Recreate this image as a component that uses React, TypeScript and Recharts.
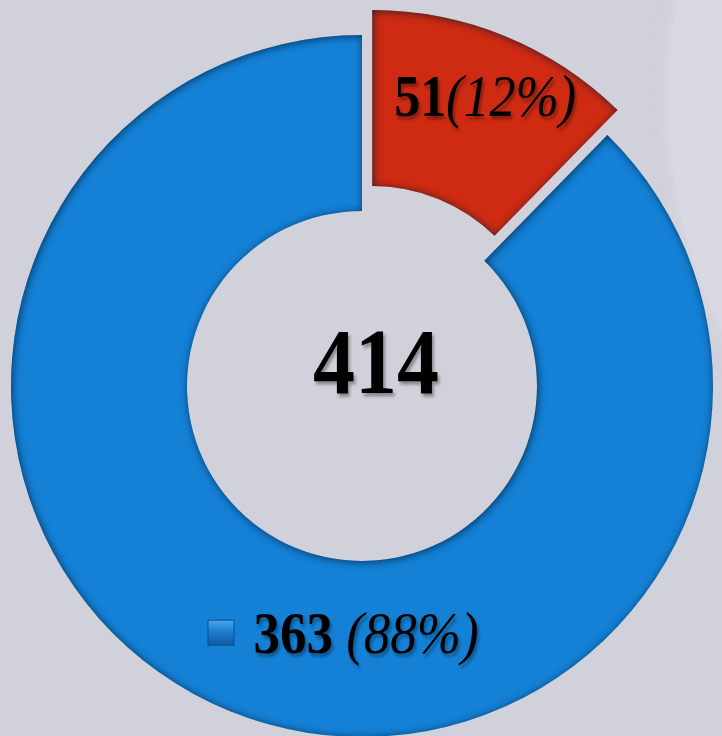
import { PieChart, Pie, Cell, Label } from "recharts"

const categories = ["Red", "Blue"]
const values = [51, 363]
const colors = ["#cf2a12", "#1481d6"]

const data = categories.map((name, i) => ({ name, value: values[i] }))
const total = values.reduce((a, b) => a + b, 0)

const CX = 362
const CY = 386
const INNER = 175
const OUTER = 351
const EXPLODE = 27
const RAD = Math.PI / 180
const FONT = "'Liberation Serif', 'Times New Roman', serif"

// the small slice is pulled out along its mid angle (clockwise from 12 o'clock)
const redMid = (values[0] / total) * 180
const offX = EXPLODE * Math.sin(redMid * RAD)
const offY = -EXPLODE * Math.cos(redMid * RAD)

const pct = (p: number) => `${Math.round(p * 100)}%`

function RedLabel(props: any) {
  const { cx, cy, midAngle, innerRadius, outerRadius, percent, value, index } = props
  if (index !== 0) return <g />
  const r = innerRadius + (outerRadius - innerRadius) * 0.63
  const x = cx + r * Math.cos(-midAngle * RAD) + 5
  const y = cy + r * Math.sin(-midAngle * RAD)
  return (
    <text
      transform={`translate(${x} ${y}) scale(1 1.12)`}
      textAnchor="middle"
      dominantBaseline="central"
      fontFamily={FONT}
      fontSize={52}
      fill="#000"
      filter="url(#txtShadow)"
    >
      <tspan fontWeight="bold">{value}</tspan>
      <tspan fontStyle="italic">({pct(percent)})</tspan>
    </text>
  )
}

function BlueLabel(props: any) {
  const { cx, cy, innerRadius, outerRadius, percent, value, index } = props
  if (index !== 1) return <g />
  const y = cy + innerRadius + (outerRadius - innerRadius) * 0.41
  return (
    <g>
      <rect
        x={cx - 154}
        y={y - 13}
        width={26}
        height={25}
        fill="url(#iconGrad)"
        stroke="#0d4f8c"
        strokeWidth={1}
      />
      <text
        transform={`translate(${cx + 4} ${y}) scale(1 1.12)`}
        textAnchor="middle"
        dominantBaseline="central"
        fontFamily={FONT}
        fontSize={53}
        fill="#000"
        filter="url(#txtShadow)"
      >
        <tspan fontWeight="bold">{value}</tspan>
        <tspan fontStyle="italic"> ({pct(percent)})</tspan>
      </text>
    </g>
  )
}

function CenterTotal() {
  return (
    <text
      transform={`translate(${CX + 14} ${CY - 24}) scale(1 1.1)`}
      textAnchor="middle"
      dominantBaseline="central"
      fontFamily={FONT}
      fontWeight="bold"
      fontSize={84}
      fill="#000"
      filter="url(#txtShadow)"
    >
      {total}
    </text>
  )
}

export default function App() {
  return (
    <div
      style={{
        position: "fixed",
        left: 0,
        top: 0,
        width: 722,
        height: 736,
        overflow: "hidden",
        background: "#d1d1db",
      }}
    >
      <div
        style={{
          position: "absolute",
          left: 668,
          top: -422,
          width: 1044,
          height: 1044,
          borderRadius: "50%",
          background: "#d9d9e2",
          boxShadow: "0 0 14px 6px rgba(217,217,226,0.7)",
        }}
      />
      <svg width={0} height={0} style={{ position: "absolute" }}>
        <defs>
          <linearGradient id="iconGrad" x1="0" y1="0" x2="0" y2="1">
            <stop offset="0%" stopColor="#4aa6ee" />
            <stop offset="45%" stopColor="#1a7fd0" />
            <stop offset="100%" stopColor="#0f5a9e" />
          </linearGradient>
          <filter id="bevel" x="-10%" y="-10%" width="120%" height="120%" colorInterpolationFilters="sRGB">
            <feComponentTransfer in="SourceAlpha" result="inv">
              <feFuncA type="table" tableValues="1 0" />
            </feComponentTransfer>
            <feGaussianBlur in="inv" stdDeviation="4.5" result="blurInv" />
            <feOffset in="blurInv" dx="1" dy="1" result="offInv" />
            <feFlood floodColor="#001a33" floodOpacity="0.75" result="dark" />
            <feComposite in="dark" in2="offInv" operator="in" result="shadow" />
            <feComposite in="shadow" in2="SourceAlpha" operator="in" result="inner" />
            <feMerge>
              <feMergeNode in="SourceGraphic" />
              <feMergeNode in="inner" />
            </feMerge>
          </filter>
          <filter id="txtShadow" x="-10%" y="-20%" width="130%" height="150%">
            <feDropShadow dx="2" dy="3" stdDeviation="1.5" floodColor="#000" floodOpacity="0.35" />
          </filter>
        </defs>
      </svg>
      <div style={{ position: "absolute", left: 0, top: 0 }}>
        <PieChart width={722} height={736} margin={{ top: 0, right: 0, bottom: 0, left: 0 }}>
          <Pie
            data={data}
            dataKey="value"
            nameKey="name"
            cx={CX}
            cy={CY}
            innerRadius={INNER}
            outerRadius={OUTER}
            startAngle={90}
            endAngle={-270}
            stroke="none"
            label={BlueLabel}
            labelLine={false}
            isAnimationActive={false}
          >
            {data.map((d, i) => (
              <Cell
                key={d.name}
                fill={i === 1 ? colors[1] : "transparent"}
                filter={i === 1 ? "url(#bevel)" : undefined}
              />
            ))}
            <Label content={CenterTotal} position="center" />
          </Pie>
          <Pie
            data={data}
            dataKey="value"
            nameKey="name"
            cx={CX + offX}
            cy={CY + offY}
            innerRadius={INNER}
            outerRadius={OUTER}
            startAngle={90}
            endAngle={-270}
            stroke="none"
            label={RedLabel}
            labelLine={false}
            isAnimationActive={false}
          >
            {data.map((d, i) => (
              <Cell
                key={d.name}
                fill={i === 0 ? colors[0] : "transparent"}
                filter={i === 0 ? "url(#bevel)" : undefined}
              />
            ))}
          </Pie>
        </PieChart>
      </div>
    </div>
  )
}
